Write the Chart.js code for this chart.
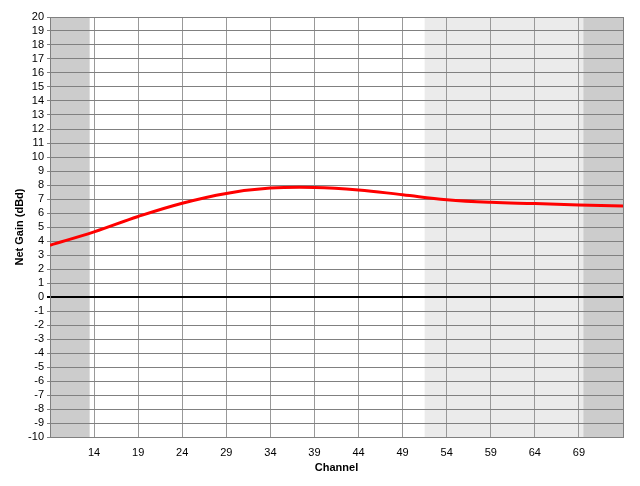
<!DOCTYPE html>
<html>
<head>
<meta charset="utf-8">
<script src="https://cdn.jsdelivr.net/npm/chart.js@4"></script>
<style>
  html, body { margin: 0; padding: 0; background: #fff; }
  #wrap { width: 640px; height: 486px; }
</style>
</head>
<body>
<div id="wrap"><canvas id="chart" width="640" height="486"></canvas></div>
<script>
// channel numbers and net gain
const channels = [9, 14, 19, 24, 29, 34, 39, 44, 49, 54, 59, 64, 69, 74];
const gain = [3.7, 4.65, 5.75, 6.7, 7.4, 7.78, 7.83, 7.65, 7.3, 6.95, 6.76, 6.67, 6.57, 6.5];

const xTicks = [14, 19, 24, 29, 34, 39, 44, 49, 54, 59, 64, 69];

// shaded channel bands
const bandStarts = [9, 51.5, 69.5];
const bandEnds = [13.5, 69.5, 74];
const bandColors = ["#cccccc", "#ebebeb", "#cccccc"];

const bands = {
    id: "bands",
    beforeDraw(chart) {
        const ctx = chart.ctx;
        const x = chart.scales.x;
        const area = chart.chartArea;
        ctx.save();
        for (let i = 0; i < bandStarts.length; i++) {
            const a = x.getPixelForValue(bandStarts[i]);
            const b = x.getPixelForValue(bandEnds[i]);
            ctx.fillStyle = bandColors[i];
            ctx.fillRect(a, area.top, b - a, area.bottom - area.top);
        }
        ctx.restore();
    },
    afterDraw(chart) {
        const ctx = chart.ctx;
        const area = chart.chartArea;
        ctx.save();
        ctx.strokeStyle = "#808080";
        ctx.lineWidth = 1;
        ctx.beginPath();
        ctx.moveTo(Math.round(area.right) + 0.5, area.top);
        ctx.lineTo(Math.round(area.right) + 0.5, area.bottom);
        ctx.stroke();
        ctx.restore();
    }
};

const font = { family: "'Liberation Sans', Arial, sans-serif", size: 11 };

new Chart(document.getElementById("chart"), {
    type: "line",
    data: {
        datasets: [{
            data: channels.map((c, i) => ({ x: c, y: gain[i] })),
            borderColor: "#ff0000",
            borderWidth: 3,
            pointRadius: 0,
            tension: 0.4,
            fill: false
        }]
    },
    options: {
        responsive: false,
        animation: false,
        layout: { padding: { top: 17, right: 17, left: 0, bottom: 0 } },
        plugins: { legend: { display: false }, tooltip: { enabled: false } },
        scales: {
            x: {
                type: "linear",
                min: 9,
                max: 74,
                afterBuildTicks: axis => { axis.ticks = xTicks.map(v => ({ value: v })); },
                afterFit: axis => { axis.height = 49; },
                grid: { color: "#999999", lineWidth: 1, drawTicks: false },
                border: { color: "#808080" },
                ticks: { font: font, color: "#000", padding: 9, maxRotation: 0, autoSkip: false },
                title: {
                    display: true,
                    text: "Channel",
                    font: { family: font.family, size: 11, weight: "bold" },
                    color: "#000",
                    padding: { top: 0, bottom: 11 }
                }
            },
            y: {
                min: -10,
                max: 20,
                afterFit: axis => { axis.width = 50; },
                grid: {
                    color: c => c.tick && c.tick.value === 0 ? "#000000" : "#808080",
                    lineWidth: c => c.tick && c.tick.value === 0 ? 2 : 1,
                    tickLength: 3
                },
                border: { color: "#808080" },
                ticks: { stepSize: 1, autoSkip: false, font: font, color: "#000", padding: 3 },
                title: {
                    display: true,
                    text: "Net Gain (dBd)",
                    font: { family: font.family, size: 11, weight: "bold" },
                    color: "#000",
                    padding: { top: 13, bottom: 0 }
                }
            }
        }
    },
    plugins: [bands]
});
</script>
</body>
</html>
